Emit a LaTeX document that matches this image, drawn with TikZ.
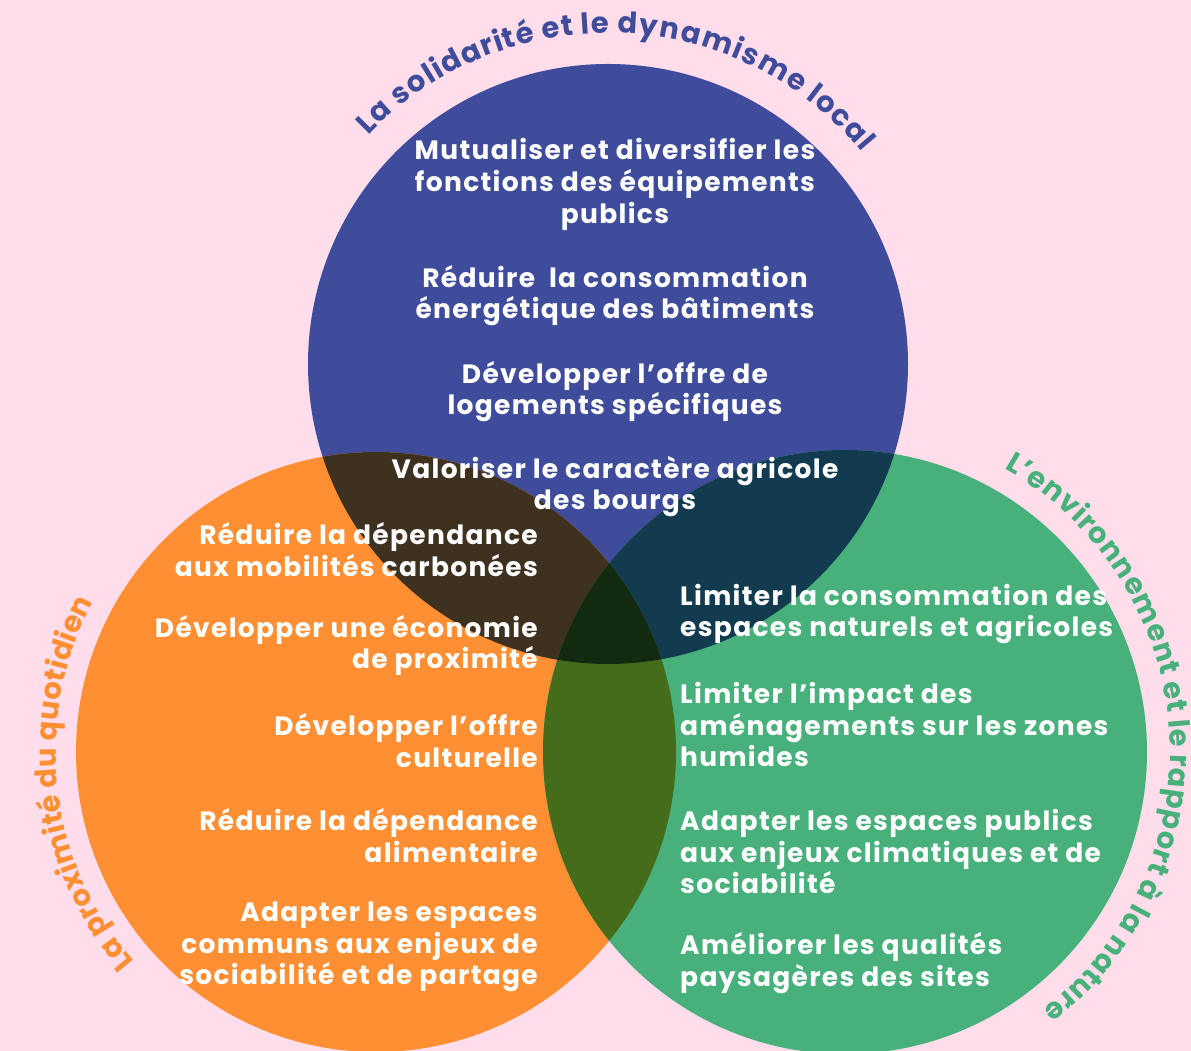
\documentclass[tikz,border=0pt]{standalone}
\usepackage{fontspec}
\setmainfont{Poppins}
\newfontfamily\bodyfont{Poppins}[LetterSpace=5]
\usetikzlibrary{decorations.text}
\definecolor{bg}{RGB}{255,221,235}
\definecolor{cblue}{RGB}{63,76,155}
\definecolor{corange}{RGB}{255,143,50}
\definecolor{cgreen}{RGB}{71,176,123}
\definecolor{cbo}{RGB}{62,49,32}
\definecolor{cbg}{RGB}{18,59,79}
\definecolor{cog}{RGB}{69,108,27}
\definecolor{cbog}{RGB}{17,42,16}
\begin{document}
\begin{tikzpicture}[x=1pt,y=1pt,
  txt/.style={text=white, font=\bodyfont\fontsize{26.5}{31.6}\selectfont\bfseries, inner sep=0pt},
  lblfont/.style={font=\fontsize{29}{32}\selectfont\bfseries}]
\fill[bg] (0,0) rectangle (1191,1051);
\useasboundingbox (0,0) rectangle (1191,1051);
\coordinate (B) at (608,687);
\coordinate (O) at (376,299);
\coordinate (G) at (845,299);
\fill[cblue] (B) circle (300);
\fill[corange] (O) circle (300);
\fill[cgreen] (G) circle (302);
\begin{scope}
  \clip (B) circle (300);
  \fill[cbo] (O) circle (300);
  \fill[cbg] (G) circle (302);
\end{scope}
\begin{scope}
  \clip (O) circle (300);
  \fill[cog] (G) circle (302);
  \clip (B) circle (300);
  \fill[cbog] (G) circle (302);
\end{scope}
% blue texts
\node[txt, align=center] (b1) at (615,866.5) {Mutualiser et diversifier les\\fonctions des équipements\\publics};
\node[txt, align=center] (b2) at (615,755.5) {Réduire\ \ la consommation\\énergétique des bâtiments};
\node[txt, align=center] (b3) at (615,659.5) {Développer l’offre de\\logements spécifiques};
\node[txt, align=center] (b4) at (615,564.5) {Valoriser le caractère agricole\\des bourgs};
% orange texts
\node[txt, align=right, anchor=east] (o1) at (538,501.5) {Réduire la dépendance\\aux mobilités carbonées};
\node[txt, align=right, anchor=east] (o2) at (538,405.5) {Développer une économie\\de proximité};
\node[txt, align=right, anchor=east] (o3) at (538,310.5) {Développer l’offre\\culturelle};
\node[txt, align=right, anchor=east] (o4) at (538,215.5) {Réduire la dépendance\\alimentaire};
\node[txt, align=right, anchor=east] (o5) at (538,104) {Adapter les espaces\\communs aux enjeux de\\sociabilité et de partage};
% green texts
\node[txt, align=left, anchor=west] (g1) at (680,437) {Limiter la consommation des\\espaces naturels et agricoles};
\node[txt, align=left, anchor=west] (g2) at (680,326.5) {Limiter l’impact des\\aménagements sur les zones\\humides};
\node[txt, align=left, anchor=west] (g3) at (680,199.5) {Adapter les espaces publics\\aux enjeux climatiques et de\\sociabilité};
\node[txt, align=left, anchor=west] (g4) at (680,88) {Améliorer les qualités\\paysagères des sites};
% curved titles
\path[decorate, decoration={text effects along path,
  text={La solidarité et le dynamisme local},
  text effects/.cd, text along path, fit text to path,
  characters={text=cblue, lblfont}}]
  ([shift={(136.4:331)}]B) arc[start angle=136.4, end angle=39.8, radius=331];
\path[decorate, decoration={text effects along path,
  text={L’environnement et le rapport à la nature},
  text effects/.cd, text along path, fit text to path,
  characters={text=cgreen, lblfont}}]
  ([shift={(60.7:325)}]G) arc[start angle=60.7, end angle=-52.5, radius=325];
\path[decorate, decoration={text effects along path,
  text={La proximité du quotidien},
  text effects/.cd, text along path, fit text to path,
  characters={text=corange, lblfont}}]
  ([shift={(221:320)}]O) arc[start angle=221, end angle=152, radius=320];
\end{tikzpicture}
\end{document}
